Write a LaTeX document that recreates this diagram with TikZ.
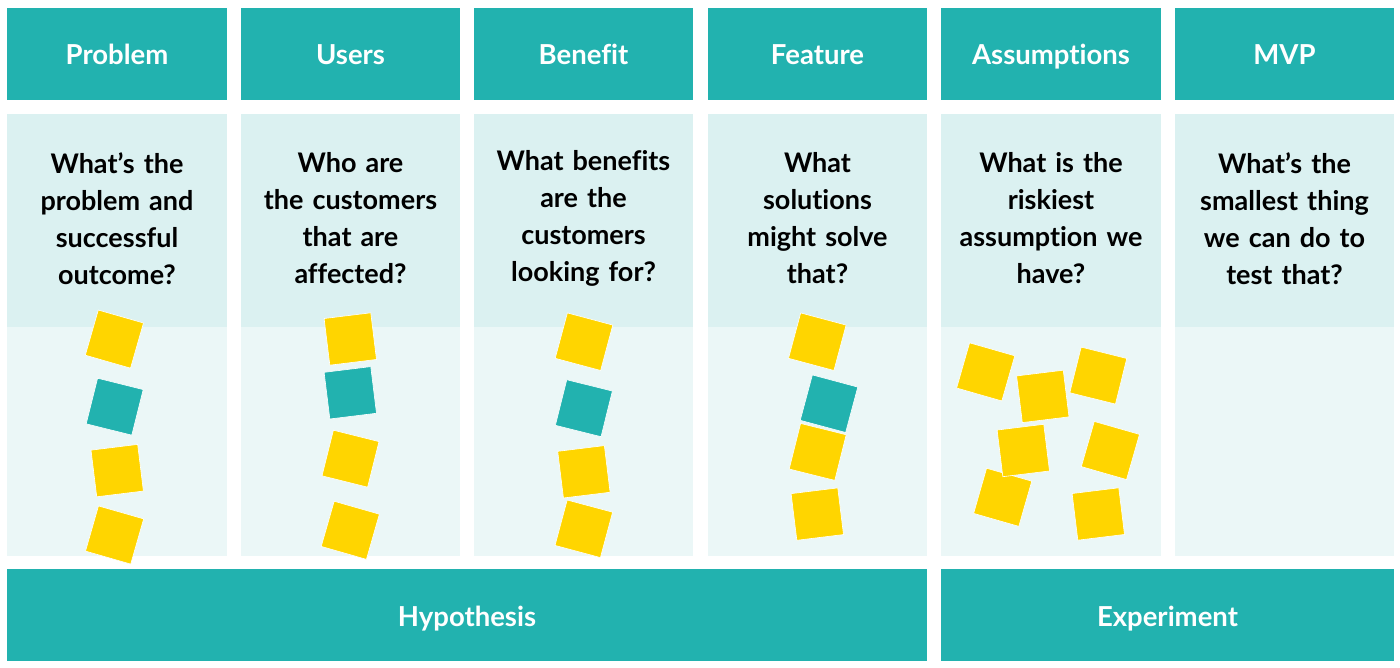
\documentclass[tikz,border=0pt]{standalone}
\usepackage{fontspec}
\setmainfont[Ligatures={NoCommon}]{Lato}
\definecolor{tealA}{HTML}{22B2AF}
\definecolor{paleA}{HTML}{DBF1F1}
\definecolor{paleB}{HTML}{EBF7F7}
\definecolor{stickyY}{HTML}{FFD500}
\tikzset{
  headbox/.style={rectangle, fill=tealA, inner sep=0pt, minimum width=219.5pt, minimum height=92pt,
    text=white, text height=26pt, text depth=4pt, font=\fontsize{27.5}{32}\selectfont\bfseries},
  qbox/.style={rectangle, fill=paleA, inner sep=0pt, minimum width=219.5pt, minimum height=213pt},
  lowbox/.style={rectangle, fill=paleB, inner sep=0pt, minimum width=219.5pt, minimum height=229pt},
  qtext/.style={align=center, text width=218pt, inner sep=0pt, text=black,
    font=\fontsize{27}{37}\selectfont\bfseries},
  barbox/.style={rectangle, fill=tealA, inner sep=0pt, minimum height=92pt,
    text=white, text height=26pt, text depth=4pt, font=\fontsize{27.5}{32}\selectfont\bfseries},
  ynote/.style={rectangle, fill=stickyY, draw=white, line width=0.6pt, minimum size=47pt, inner sep=0pt},
  tnote/.style={rectangle, fill=tealA, draw=white, line width=0.6pt, minimum size=47pt, inner sep=0pt}
}
\begin{document}
\begin{tikzpicture}[x=1pt,y=-1pt]
\useasboundingbox (0,0) rectangle (1400,668);
\fill[white] (0,0) rectangle (1400,668);
\foreach \i/\cx/\h/\q in {
  1/117/Problem/{What’s the\\problem and\\successful\\outcome?},
  2/350.5/Users/{Who are\\the customers\\that are\\affected?},
  3/583.5/Benefit/{What benefits\\are the\\customers\\looking for?},
  4/817.5/Feature/{What\\solutions\\might solve\\that?},
  5/1051/Assumptions/{What is the\\riskiest\\assumption we\\have?},
  6/1284.5/MVP/{What’s the\\smallest thing\\we can do to\\test that?}}{
  \node[headbox] (h\i) at (\cx,54) {\h};
  \node[qbox] (q\i) at (\cx,220.5) {};
  \node[lowbox] (l\i) at (\cx,441.5) {};
  \node[qtext] (t\i) at (\cx,218.5) {\q};
}
% column 1
\node[ynote, rotate=-16] (a1) at (114.4,339.1) {};
\node[tnote, rotate=-14] (a2) at (114.7,406.7) {};
\node[ynote, rotate=7] (a3) at (117.2,470.6) {};
\node[ynote, rotate=-16] (a4) at (114.6,535) {};
% column 2
\node[ynote, rotate=7] (b1) at (350.3,339) {};
\node[tnote, rotate=7] (b2) at (350.3,392.8) {};
\node[ynote, rotate=-14] (b3) at (350.5,458.7) {};
\node[ynote, rotate=-16] (b4) at (350.3,530.3) {};
% column 3
\node[ynote, rotate=-15] (c1) at (584,341.7) {};
\node[tnote, rotate=-14] (c2) at (583.9,408.2) {};
\node[ynote, rotate=7] (c3) at (583.9,471.8) {};
\node[ynote, rotate=-15] (c4) at (583.8,528.8) {};
% column 4
\node[ynote, rotate=-15] (d1) at (817.3,341.7) {};
\node[ynote, rotate=-14] (d3) at (817.7,451.9) {};
\node[tnote, rotate=-15] (d2) at (829,403.7) {};
\node[ynote, rotate=7] (d4) at (817.3,514.1) {};
% column 5
\node[ynote, rotate=-16] (e1) at (985.7,371.9) {};
\node[ynote, rotate=7] (e2) at (1042.8,396.4) {};
\node[ynote, rotate=-14] (e3) at (1098.3,375.6) {};
\node[ynote, rotate=-16] (e6) at (1002.7,497.3) {};
\node[ynote, rotate=7] (e4) at (1023.3,450.5) {};
\node[ynote, rotate=-16] (e5) at (1110.4,450.5) {};
\node[ynote, rotate=7] (e7) at (1098.3,514) {};
% bottom bars
\node[barbox, minimum width=920pt] (hyp) at (467,615) {Hypothesis};
\node[barbox, minimum width=453pt] (exp) at (1167.5,615) {Experiment};
\end{tikzpicture}
\end{document}
